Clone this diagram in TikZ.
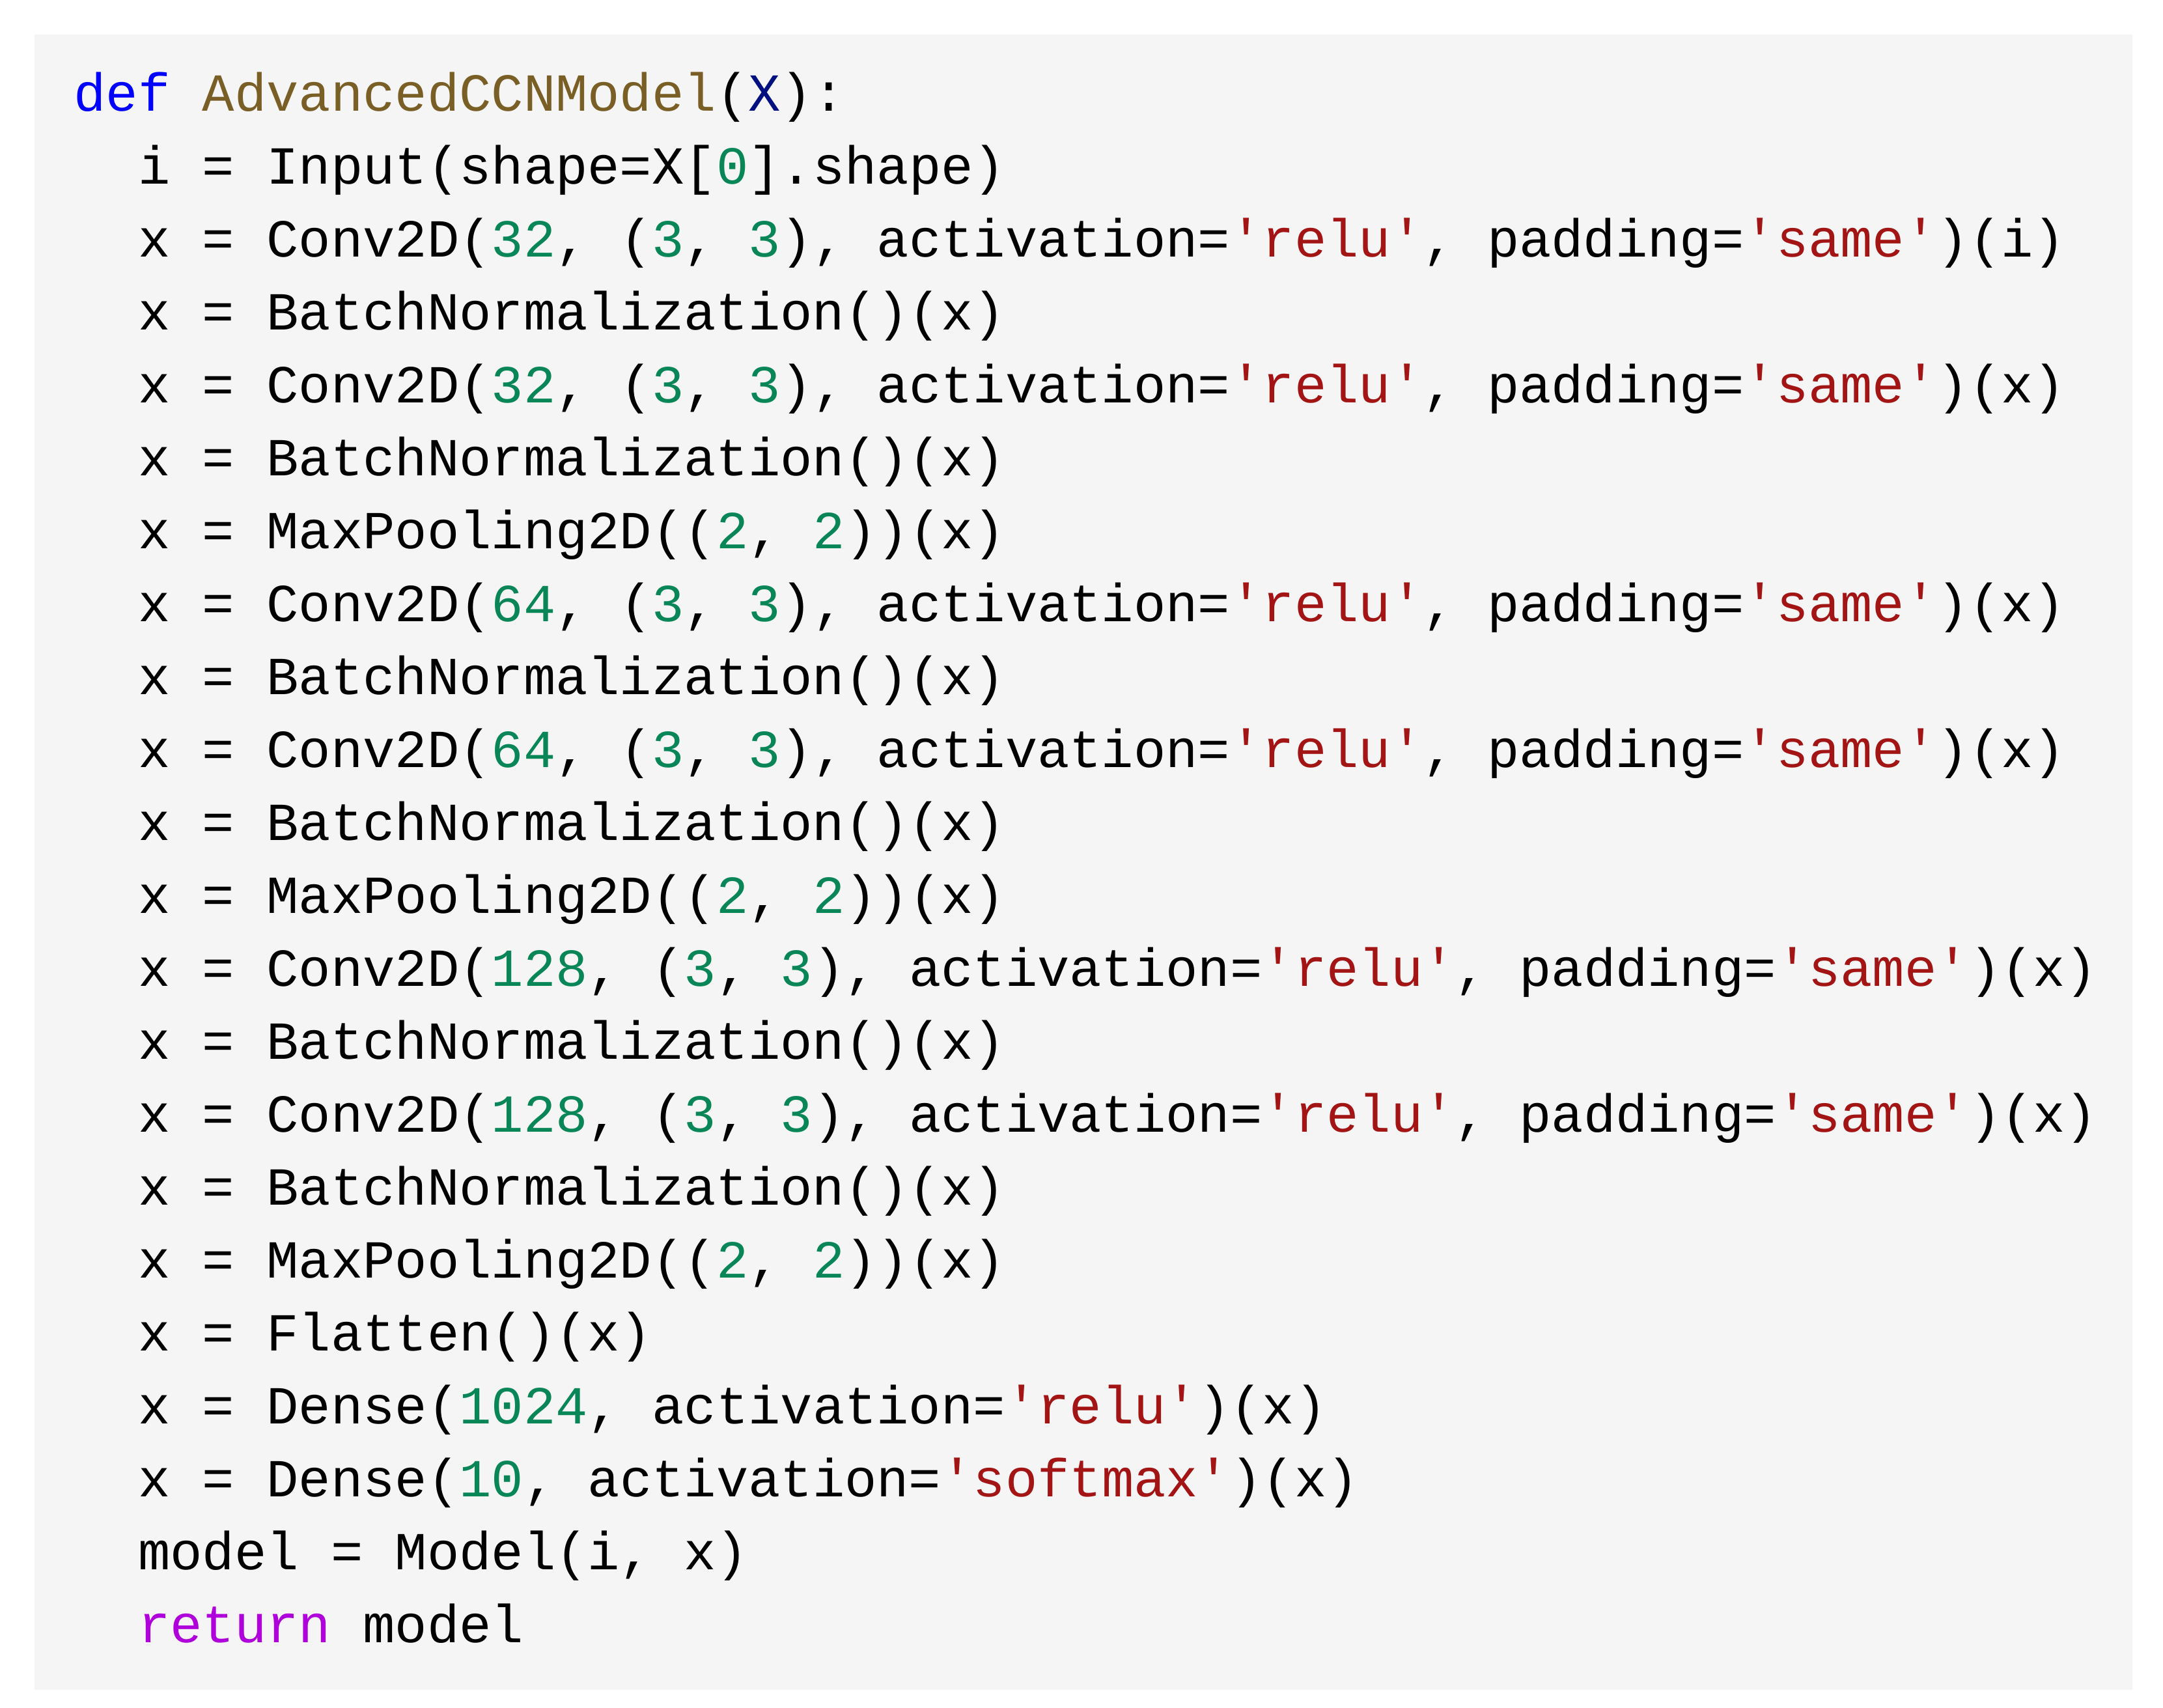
\documentclass[tikz,border=0pt]{standalone}
\usepackage{fontspec}
\setmonofont{Liberation Mono}
\usetikzlibrary{positioning}
\definecolor{bgcode}{HTML}{F5F5F5}
\definecolor{kwblue}{HTML}{0000FF}
\definecolor{fnbrown}{HTML}{795E26}
\definecolor{varblue}{HTML}{001080}
\definecolor{numgreen}{HTML}{098658}
\definecolor{strred}{HTML}{A31515}
\definecolor{retpurple}{HTML}{AF00DB}
\newcommand{\kw}[1]{\textcolor{kwblue}{#1}}
\newcommand{\fnm}[1]{\textcolor{fnbrown}{#1}}
\newcommand{\vr}[1]{\textcolor{varblue}{#1}}
\newcommand{\nm}[1]{\textcolor{numgreen}{#1}}
\newcommand{\st}[1]{\textcolor{strred}{#1}}
\newcommand{\rt}[1]{\textcolor{retpurple}{#1}}
\tikzset{ln/.style={anchor=base west, inner sep=0pt, font=\fontsize{22pt}{24pt}\ttfamily}}
\newcommand{\lh}{52.67}

\begin{document}
\begin{tikzpicture}[x=0.02cm, y=-0.02cm]
    \useasboundingbox (0,0) rectangle (1562,1233);
    \fill[bgcode] (25,25) rectangle (1540,1220);

    % code lines
    \node[ln] (l1) at (53,80) {\kw{def} \fnm{AdvancedCCNModel}(\vr{X}):};
    \node[ln] (l2) at (53,80+1*\lh) {~~i = Input(shape=X[\nm{0}].shape)};
    \node[ln] (l3) at (53,80+2*\lh) {~~x = Conv2D(\nm{32}, (\nm{3}, \nm{3}), activation=\st{'relu'}, padding=\st{'same'})(i)};
    \node[ln] (l4) at (53,80+3*\lh) {~~x = BatchNormalization()(x)};
    \node[ln] (l5) at (53,80+4*\lh) {~~x = Conv2D(\nm{32}, (\nm{3}, \nm{3}), activation=\st{'relu'}, padding=\st{'same'})(x)};
    \node[ln] (l6) at (53,80+5*\lh) {~~x = BatchNormalization()(x)};
    \node[ln] (l7) at (53,80+6*\lh) {~~x = MaxPooling2D((\nm{2}, \nm{2}))(x)};
    \node[ln] (l8) at (53,80+7*\lh) {~~x = Conv2D(\nm{64}, (\nm{3}, \nm{3}), activation=\st{'relu'}, padding=\st{'same'})(x)};
    \node[ln] (l9) at (53,80+8*\lh) {~~x = BatchNormalization()(x)};
    \node[ln] (l10) at (53,80+9*\lh) {~~x = Conv2D(\nm{64}, (\nm{3}, \nm{3}), activation=\st{'relu'}, padding=\st{'same'})(x)};
    \node[ln] (l11) at (53,80+10*\lh) {~~x = BatchNormalization()(x)};
    \node[ln] (l12) at (53,80+11*\lh) {~~x = MaxPooling2D((\nm{2}, \nm{2}))(x)};
    \node[ln] (l13) at (53,80+12*\lh) {~~x = Conv2D(\nm{128}, (\nm{3}, \nm{3}), activation=\st{'relu'}, padding=\st{'same'})(x)};
    \node[ln] (l14) at (53,80+13*\lh) {~~x = BatchNormalization()(x)};
    \node[ln] (l15) at (53,80+14*\lh) {~~x = Conv2D(\nm{128}, (\nm{3}, \nm{3}), activation=\st{'relu'}, padding=\st{'same'})(x)};
    \node[ln] (l16) at (53,80+15*\lh) {~~x = BatchNormalization()(x)};
    \node[ln] (l17) at (53,80+16*\lh) {~~x = MaxPooling2D((\nm{2}, \nm{2}))(x)};
    \node[ln] (l18) at (53,80+17*\lh) {~~x = Flatten()(x)};
    \node[ln] (l19) at (53,80+18*\lh) {~~x = Dense(\nm{1024}, activation=\st{'relu'})(x)};
    \node[ln] (l20) at (53,80+19*\lh) {~~x = Dense(\nm{10}, activation=\st{'softmax'})(x)};
    \node[ln] (l21) at (53,80+20*\lh) {~~model = Model(i, x)};
    \node[ln] (l22) at (53,80+21*\lh) {~~\rt{return} model};
\end{tikzpicture}
\end{document}
